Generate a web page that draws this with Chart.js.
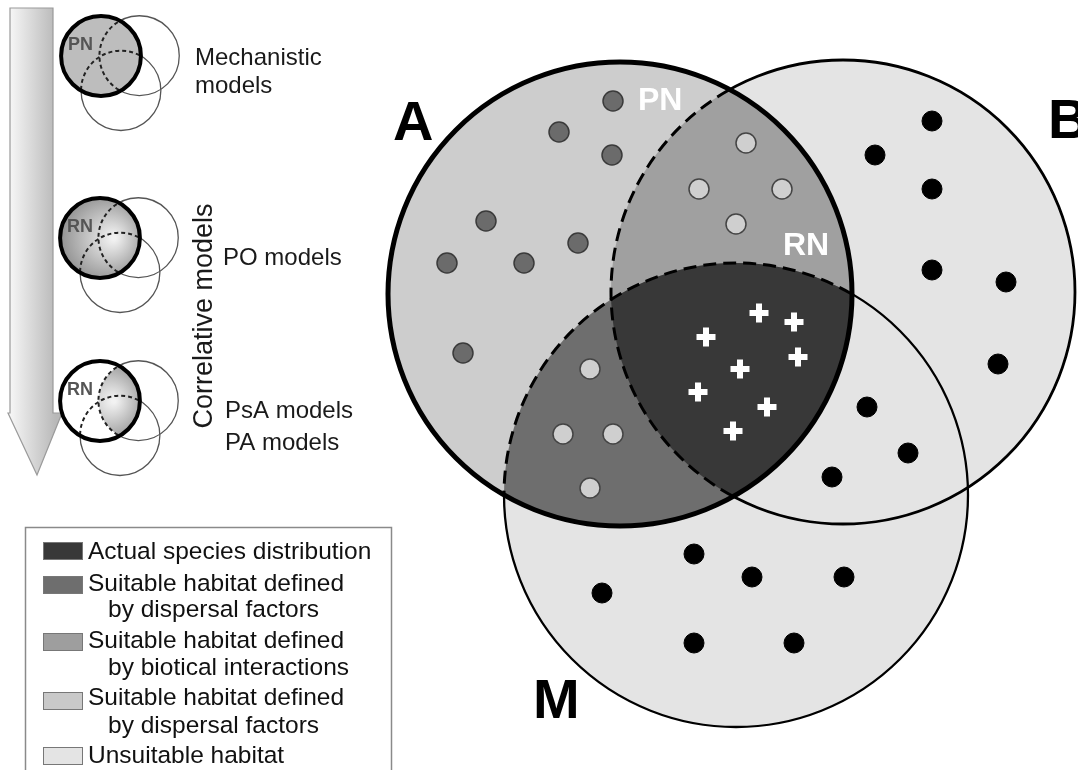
<!DOCTYPE html>
<html>
<head>
<meta charset="utf-8">
<title>BAM diagram</title>
<script src="https://cdn.jsdelivr.net/npm/chart.js@4.4.0/dist/chart.umd.min.js"></script>
<style>
    html, body { margin: 0; padding: 0; background: #fff; }
    #bamChart { display: block; }
</style>
</head>
<body>
<canvas id="bamChart" width="1078" height="770"></canvas>
<script>
// the three circles (A = abiotic, B = biotic, M = movement), chart units
var circleNames = ['A', 'B', 'M'];
var circleX = [620, 843, 736];
var circleY = [294, 292, 495];
var circleR = [232, 232, 232];

// occurrence dots
var abioticX = [613, 559, 612, 486, 578, 447, 524, 463];
var abioticY = [101, 132, 155, 221, 243, 263, 263, 353];
var bioticX = [746, 699, 782, 736];
var bioticY = [143, 189, 189, 224];
var dispersalX = [590, 563, 613, 590];
var dispersalY = [369, 434, 434, 488];
var presenceX = [759, 794, 706, 798, 740, 698, 767, 733];
var presenceY = [313, 322, 337, 357, 369, 392, 407, 431];
var absenceX = [932, 875, 932, 932, 1006, 998, 867, 908, 832, 694, 602, 752, 844, 694, 794];
var absenceY = [121, 155, 189, 270, 282, 364, 407, 453, 477, 554, 593, 577, 577, 643, 643];

// small model diagrams on the left
var miniLabels = ['PN', 'RN', 'RN'];
var miniFill = ['flat', 'gradient', 'biotic'];
var miniX = [101, 100, 100];
var miniY = [56, 238, 401];
var miniScale = 0.172;
var modelText = [['Mechanistic', 'models'], ['PO models'], ['PsA models', 'PA models']];

// legend
var legendLabels = [
    ['Actual species distribution'],
    ['Suitable habitat defined', 'by dispersal factors'],
    ['Suitable habitat defined', 'by biotical interactions'],
    ['Suitable habitat defined', 'by dispersal factors'],
    ['Unsuitable habitat']
];
var legendColors = ['#383838', '#6e6e6e', '#9e9e9e', '#c9c9c9', '#e4e4e4'];

var FONT = '"Liberation Sans", Arial, sans-serif';

function toPoints(xs, ys) {
    return xs.map(function (x, i) { return { x: x, y: ys[i] }; });
}

function ring(ctx, c) {
    ctx.beginPath();
    ctx.arc(c.x, c.y, c.r, 0, Math.PI * 2);
}

function clipOutside(ctx, c, w, h) {
    ctx.beginPath();
    ctx.rect(0, 0, w, h);
    ctx.moveTo(c.x + c.r, c.y);
    ctx.arc(c.x, c.y, c.r, 0, Math.PI * 2);
    ctx.clip('evenodd');
}

function circlesAt(chart, ox, oy, s) {
    var sx = chart.scales.x, sy = chart.scales.y;
    var k = sx.getPixelForValue(1) - sx.getPixelForValue(0);
    return circleNames.map(function (n, i) {
        return {
            x: sx.getPixelForValue(ox + (circleX[i] - circleX[0]) * s),
            y: sy.getPixelForValue(oy + (circleY[i] - circleY[0]) * s),
            r: circleR[i] * s * k
        };
    });
}

function drawBig(ctx, c, w, h) {
    var A = c[0], B = c[1], M = c[2];
    ctx.save();
    ctx.fillStyle = '#e4e4e4';
    ring(ctx, B); ctx.fill();
    ring(ctx, M); ctx.fill();
    ctx.fillStyle = '#cdcdcd';
    ring(ctx, A); ctx.fill();

    ctx.save();
    ring(ctx, A); ctx.clip();
    ctx.fillStyle = '#a0a0a0';
    ring(ctx, B); ctx.fill();
    ctx.fillStyle = '#6e6e6e';
    ring(ctx, M); ctx.fill();
    ring(ctx, B); ctx.clip();
    ctx.fillStyle = '#383838';
    ring(ctx, M); ctx.fill();
    ctx.restore();

    // thin outlines outside A
    ctx.save();
    clipOutside(ctx, A, w, h);
    ctx.strokeStyle = '#000';
    ctx.lineWidth = 2.8;
    ring(ctx, B); ctx.stroke();
    ctx.lineWidth = 2.3;
    ring(ctx, M); ctx.stroke();
    ctx.restore();

    // dashed borders inside A
    ctx.save();
    ring(ctx, A); ctx.clip();
    ctx.strokeStyle = '#000';
    ctx.setLineDash([13, 7]);
    ctx.lineWidth = 3;
    ring(ctx, B); ctx.stroke();
    ring(ctx, M); ctx.stroke();
    ctx.restore();

    ctx.strokeStyle = '#000';
    ctx.lineWidth = 5;
    ring(ctx, A); ctx.stroke();
    ctx.restore();
}

function drawMini(ctx, c, mode, label, w, h) {
    var A = c[0], B = c[1], M = c[2];
    ctx.save();
    var g = ctx.createRadialGradient(A.x + A.r * 0.35, A.y, A.r * 0.05, A.x + A.r * 0.1, A.y, A.r * 1.15);
    g.addColorStop(0, '#f2f2f2');
    g.addColorStop(1, '#8e8e8e');
    if (mode === 'flat') {
        ctx.fillStyle = '#bdbdbd';
        ring(ctx, A); ctx.fill();
    } else if (mode === 'gradient') {
        ctx.fillStyle = g;
        ring(ctx, A); ctx.fill();
    } else {
        ctx.save();
        ring(ctx, A); ctx.clip();
        ctx.fillStyle = g;
        ring(ctx, B); ctx.fill();
        ctx.restore();
    }

    ctx.save();
    clipOutside(ctx, A, w, h);
    ctx.strokeStyle = '#555';
    ctx.lineWidth = 1.3;
    ring(ctx, B); ctx.stroke();
    ring(ctx, M); ctx.stroke();
    ctx.restore();

    ctx.save();
    ring(ctx, A); ctx.clip();
    ctx.strokeStyle = '#222';
    ctx.setLineDash([4, 3]);
    ctx.lineWidth = 2;
    ring(ctx, B); ctx.stroke();
    ring(ctx, M); ctx.stroke();
    ctx.restore();

    ctx.strokeStyle = '#000';
    ctx.lineWidth = 4;
    ring(ctx, A); ctx.stroke();

    ctx.fillStyle = '#555';
    ctx.font = 'bold 18px ' + FONT;
    ctx.textBaseline = 'alphabetic';
    ctx.textAlign = 'left';
    ctx.fillText(label, A.x - A.r * 0.83, A.y - A.r * 0.15);
    ctx.restore();
}

function drawArrow(ctx) {
    ctx.save();
    var g = ctx.createLinearGradient(10, 0, 56, 0);
    g.addColorStop(0, '#f6f6f6');
    g.addColorStop(1, '#b8b8b8');
    ctx.beginPath();
    ctx.moveTo(10, 8);
    ctx.lineTo(53, 8);
    ctx.lineTo(53, 413);
    ctx.lineTo(62, 413);
    ctx.lineTo(37, 475);
    ctx.lineTo(8, 413);
    ctx.lineTo(10, 413);
    ctx.closePath();
    ctx.fillStyle = g;
    ctx.fill();
    ctx.strokeStyle = '#9a9a9a';
    ctx.lineWidth = 1.2;
    ctx.stroke();
    ctx.restore();
}

function drawLegend(ctx) {
    ctx.save();
    ctx.strokeStyle = '#8a8a8a';
    ctx.lineWidth = 1.5;
    ctx.strokeRect(25.5, 527.5, 366, 270);
    var tops = [542, 576, 633, 692, 747];
    var base = [[559], [591, 617], [648, 675], [705, 733], [763]];
    ctx.font = '24.5px ' + FONT;
    ctx.textAlign = 'left';
    ctx.textBaseline = 'alphabetic';
    legendLabels.forEach(function (lines, i) {
        ctx.fillStyle = legendColors[i];
        ctx.fillRect(43, tops[i], 40, 18);
        ctx.strokeStyle = '#777';
        ctx.lineWidth = 1;
        ctx.strokeRect(43.5, tops[i] + 0.5, 39, 17);
        ctx.fillStyle = '#111';
        lines.forEach(function (t, j) {
            ctx.fillText(t, j === 0 ? 88 : 108, base[i][j]);
        });
    });
    ctx.restore();
}

function drawModelText(ctx) {
    ctx.save();
    ctx.fillStyle = '#1a1a1a';
    ctx.font = '24px ' + FONT;
    ctx.textAlign = 'left';
    ctx.textBaseline = 'alphabetic';
    var pos = [[195, [65, 93]], [223, [265]], [225, [418, 450]]];
    modelText.forEach(function (lines, i) {
        lines.forEach(function (t, j) {
            ctx.fillText(t, pos[i][0], pos[i][1][j]);
        });
    });
    ctx.translate(212, 316);
    ctx.rotate(-Math.PI / 2);
    ctx.textAlign = 'center';
    ctx.font = '27px ' + FONT;
    ctx.fillText('Correlative models', 0, 0);
    ctx.restore();
}

var vennPlugin = {
    id: 'venn',
    beforeDatasetsDraw: function (chart) {
        var ctx = chart.ctx;
        var w = chart.width, h = chart.height;
        drawArrow(ctx);
        miniLabels.forEach(function (lab, i) {
            drawMini(ctx, circlesAt(chart, miniX[i], miniY[i], miniScale), miniFill[i], lab, w, h);
        });
        drawModelText(ctx);
        drawLegend(ctx);
        drawBig(ctx, circlesAt(chart, circleX[0], circleY[0], 1), w, h);
    },
    afterDatasetsDraw: function (chart) {
        var ctx = chart.ctx;
        ctx.save();
        ctx.textAlign = 'left';
        ctx.textBaseline = 'alphabetic';
        ctx.fillStyle = '#000';
        ctx.font = 'bold 56px ' + FONT;
        ctx.fillText('A', 393, 140);
        ctx.fillText('B', 1048, 138);
        ctx.fillText('M', 533, 718);
        ctx.fillStyle = '#fff';
        ctx.font = 'bold 32px ' + FONT;
        ctx.fillText('PN', 638, 110);
        ctx.fillText('RN', 783, 255);
        ctx.restore();
    }
};

var ctx = document.getElementById('bamChart').getContext('2d');

var dotBase = {
    type: 'scatter',
    pointStyle: 'circle',
    pointRadius: 10,
    pointHoverRadius: 10,
    borderWidth: 1.5
};

var myChart = new Chart(ctx, {
    type: 'scatter',
    data: {
        datasets: [
            Object.assign({}, dotBase, {
                label: 'Abiotic only',
                data: toPoints(abioticX, abioticY),
                backgroundColor: '#6b6b6b',
                borderColor: '#3a3a3a'
            }),
            Object.assign({}, dotBase, {
                label: 'Biotic',
                data: toPoints(bioticX, bioticY),
                backgroundColor: '#cfcfcf',
                borderColor: '#444'
            }),
            Object.assign({}, dotBase, {
                label: 'Dispersal',
                data: toPoints(dispersalX, dispersalY),
                backgroundColor: '#cfcfcf',
                borderColor: '#444'
            }),
            Object.assign({}, dotBase, {
                label: 'Presence',
                data: toPoints(presenceX, presenceY),
                pointStyle: 'cross',
                pointRadius: 9.5,
                pointHoverRadius: 9.5,
                borderWidth: 6,
                borderColor: '#fff'
            }),
            Object.assign({}, dotBase, {
                label: 'Absence',
                data: toPoints(absenceX, absenceY),
                backgroundColor: '#000',
                borderColor: '#000',
                borderWidth: 1
            })
        ]
    },
    options: {
        responsive: false,
        animation: false,
        devicePixelRatio: 1,
        layout: { padding: 0, autoPadding: false },
        events: [],
        scales: {
            x: { type: 'linear', min: 0, max: 1078, display: false },
            y: { type: 'linear', min: 0, max: 770, reverse: true, display: false }
        },
        plugins: {
            legend: { display: false },
            tooltip: { enabled: false }
        }
    },
    plugins: [vennPlugin]
});
</script>
</body>
</html>
